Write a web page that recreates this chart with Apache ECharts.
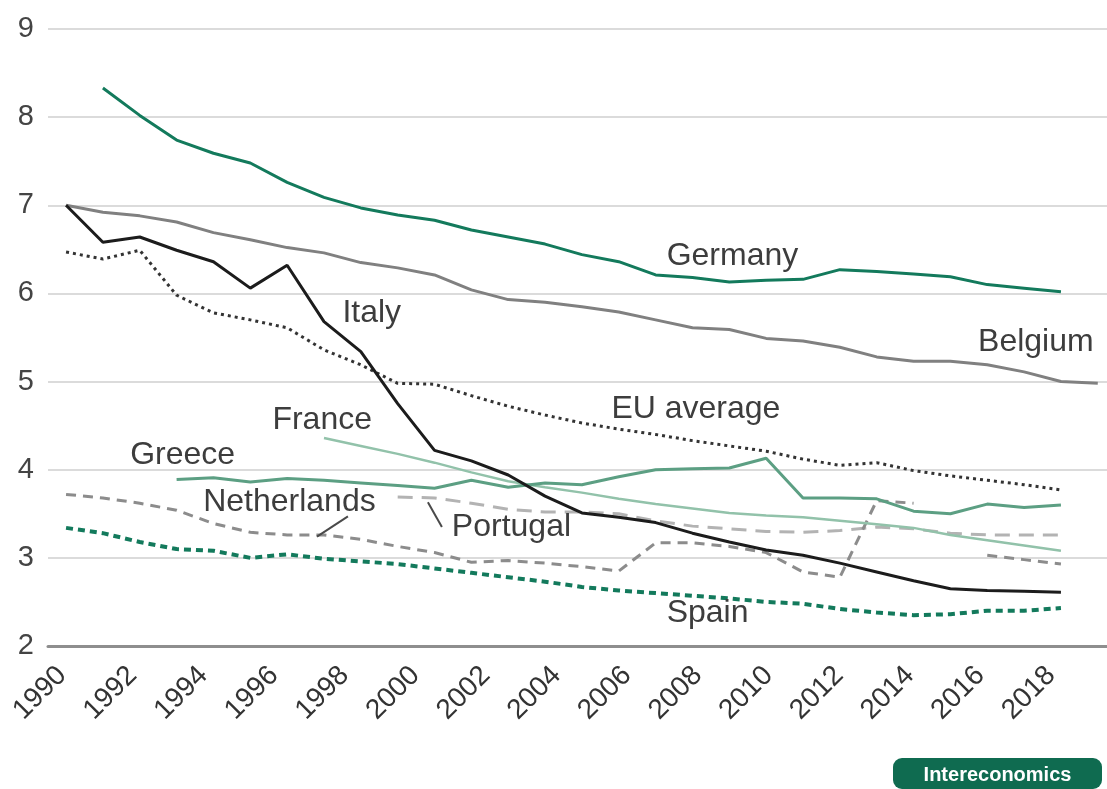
<!DOCTYPE html>
<html>
<head>
<meta charset="utf-8">
<script src="https://cdn.jsdelivr.net/npm/echarts@6/dist/echarts.min.js"></script>
<style>
  html, body { margin: 0; padding: 0; background: #fff; }
  #chart { width: 1107px; height: 789px; }
</style>
</head>
<body>
<div id="chart"></div>
<script>
// years on the data axis
const years = [1990, 1991, 1992, 1993, 1994, 1995, 1996, 1997, 1998, 1999,
    2000, 2001, 2002, 2003, 2004, 2005, 2006, 2007, 2008, 2009,
    2010, 2011, 2012, 2013, 2014, 2015, 2016, 2017, 2018]
const tickYears = [1990, 1992, 1994, 1996, 1998, 2000, 2002, 2004, 2006, 2008, 2010, 2012, 2014, 2016, 2018]

const germany = [null, 8.33, 8.02, 7.74, 7.59, 7.48, 7.26, 7.09, 6.97, 6.89,
    6.83, 6.72, 6.64, 6.56, 6.44, 6.36, 6.21, 6.18, 6.13, 6.15,
    6.16, 6.27, 6.25, 6.22, 6.19, 6.10, 6.06, 6.02, null]
const belgium = [7.00, 6.92, 6.88, 6.81, 6.69, 6.61, 6.52, 6.46, 6.35, 6.29,
    6.21, 6.04, 5.93, 5.90, 5.85, 5.79, 5.70, 5.61, 5.59, 5.49,
    5.46, 5.39, 5.28, 5.23, 5.23, 5.19, 5.11, 5.00, 4.98]
const italy = [7.00, 6.58, 6.64, 6.49, 6.36, 6.06, 6.32, 5.68, 5.34, 4.75,
    4.22, 4.10, 3.94, 3.70, 3.51, 3.46, 3.40, 3.28, 3.18, 3.09,
    3.03, 2.94, 2.84, 2.74, 2.65, 2.63, 2.62, 2.61, null]
const euAverage = [6.47, 6.39, 6.49, 5.98, 5.78, 5.70, 5.61, 5.36, 5.19, 4.98,
    4.97, 4.84, 4.72, 4.62, 4.53, 4.46, 4.40, 4.33, 4.27, 4.21,
    4.12, 4.05, 4.08, 3.99, 3.93, 3.88, 3.83, 3.77, null]
const france = [null, null, null, null, null, null, null, 4.36, 4.27, 4.18,
    4.08, 3.97, 3.87, 3.80, 3.74, 3.67, 3.61, 3.56, 3.51, 3.48,
    3.46, 3.42, 3.38, 3.34, 3.26, 3.20, 3.14, 3.08, null]
const greece = [null, null, null, 3.89, 3.91, 3.86, 3.90, 3.88, 3.85, 3.82,
    3.79, 3.88, 3.80, 3.85, 3.83, 3.92, 4.00, 4.01, 4.02, 4.13,
    3.68, 3.68, 3.67, 3.53, 3.50, 3.61, 3.57, 3.60, null]
const netherlands = [3.72, 3.68, 3.62, 3.54, 3.39, 3.29, 3.26, 3.26, 3.21, 3.13,
    3.06, 2.95, 2.97, 2.94, 2.90, 2.85, 3.17, 3.17, 3.13, 3.06,
    2.84, 2.78, 3.65, 3.62, null, 3.03, 2.98, 2.93, null]
const portugal = [null, null, null, null, null, null, null, null, null, 3.69,
    3.68, 3.62, 3.55, 3.52, 3.52, 3.50, 3.42, 3.36, 3.33, 3.30,
    3.29, 3.31, 3.35, 3.33, 3.28, 3.26, 3.26, 3.26, null]
const spain = [3.34, 3.28, 3.18, 3.10, 3.08, 3.00, 3.04, 2.99, 2.96, 2.93,
    2.88, 2.83, 2.78, 2.73, 2.67, 2.63, 2.60, 2.57, 2.54, 2.50,
    2.48, 2.42, 2.38, 2.35, 2.36, 2.40, 2.40, 2.43, null]

// where each name sits (left edge of the text, middle)
const labelGermany = [2006.3, 6.42]
const labelBelgium = [2014.75, 5.45]
const labelItaly = [1997.5, 5.78]
const labelEu = [2004.8, 4.69]
const labelFrance = [1995.6, 4.56]
const labelGreece = [1991.74, 4.17]
const labelNetherlands = [1993.72, 3.63]
const labelPortugal = [2000.47, 3.35]
const labelSpain = [2006.3, 2.37]
// leader lines
const leaderNetherlands = [[1996.81, 3.24], [1997.65, 3.47]]
const leaderPortugal = [[1999.82, 3.63], [2000.2, 3.35]]

const font = "'Liberation Sans', Arial, sans-serif"
const textColor = '#3d3d3d'

function pairs(vals) {
    return years.map(function (y, i) { return [y, vals[i]] })
}

function nameTag(name, pos) {
    return {
        symbol: 'circle',
        symbolSize: 0,
        silent: true,
        animation: false,
        label: {
            show: true,
            position: 'right',
            distance: 0,
            formatter: name,
            fontFamily: font,
            fontSize: 32,
            color: textColor
        },
        data: [{ coord: pos }]
    }
}

function leader(seg) {
    return {
        symbol: 'none',
        silent: true,
        animation: false,
        label: { show: false },
        lineStyle: { color: '#4a4a4a', width: 2, type: 'solid' },
        data: [[{ coord: seg[0] }, { coord: seg[1] }]]
    }
}

function makeLine(name, vals, color, width, type, tag, extra) {
    const s = {
        name: name,
        type: 'line',
        data: pairs(vals),
        showSymbol: false,
        symbol: 'none',
        connectNulls: false,
        animation: false,
        lineStyle: { color: color, width: width, type: type, cap: 'butt' },
        markPoint: nameTag(name, tag)
    }
    if (extra) s.markLine = extra
    return s
}

const myChart = echarts.init(document.getElementById('chart'), null, { renderer: 'canvas' })
var option

option = {
    backgroundColor: '#fff',
    grid: [
        { left: 48, right: 0, top: 29, bottom: 143 },
        { left: 62, right: 56, top: 29, bottom: 143 }
    ],
    xAxis: [
        {
            type: 'value',
            gridIndex: 0,
            min: 1989.51,
            max: 2018.25,
            axisLine: { show: true, onZero: false, lineStyle: { color: '#8e8e8e', width: 3 } },
            axisTick: { show: false },
            axisLabel: { show: false },
            splitLine: { show: false }
        },
        {
            type: 'value',
            gridIndex: 1,
            min: 1990,
            max: 2018,
            interval: 2,
            axisLine: { show: false },
            axisTick: { show: false },
            splitLine: { show: false },
            axisLabel: {
                rotate: 45,
                margin: 25,
                fontFamily: font,
                fontSize: 28,
                color: '#333',
                formatter: function (v) { return tickYears.indexOf(v) >= 0 ? String(v) : '' }
            }
        }
    ],
    yAxis: [
        {
            type: 'value',
            gridIndex: 0,
            min: 2,
            max: 9,
            interval: 1,
            axisLine: { show: false },
            axisTick: { show: false },
            axisLabel: { margin: 14, fontFamily: font, fontSize: 29, color: '#444' },
            splitLine: { lineStyle: { color: '#cfcfcf', width: 1.5 } }
        },
        { type: 'value', gridIndex: 1, min: 2, max: 9, show: false }
    ],
    series: [
        makeLine('Portugal', portugal, '#b3b3b3', 3, [15, 9], labelPortugal, leader(leaderPortugal)),
        makeLine('Netherlands', netherlands, '#8c8c8c', 3, [10, 7], labelNetherlands, leader(leaderNetherlands)),
        makeLine('France', france, '#92c2aa', 2.5, 'solid', labelFrance),
        makeLine('Greece', greece, '#5c9f83', 3, 'solid', labelGreece),
        makeLine('Spain', spain, '#137a5c', 4, [7, 5], labelSpain),
        makeLine('EU average', euAverage, '#333333', 3, [3, 4], labelEu),
        makeLine('Belgium', belgium, '#808080', 3, 'solid', labelBelgium),
        makeLine('Germany', germany, '#137a5c', 3, 'solid', labelGermany),
        makeLine('Italy', italy, '#1c1c1c', 3, 'solid', labelItaly)
    ],
    graphic: [
        {
            type: 'group',
            left: 893,
            top: 758,
            children: [
                { type: 'rect', shape: { x: 0, y: 0, width: 209, height: 31, r: 9 }, style: { fill: '#0f6b50' } },
                {
                    type: 'text',
                    x: 104.5,
                    y: 17,
                    style: {
                        text: 'Intereconomics',
                        fill: '#fff',
                        font: 'bold 20px ' + font,
                        textAlign: 'center',
                        textVerticalAlign: 'middle'
                    }
                }
            ]
        }
    ]
}

if (option && typeof option === 'object') {
    myChart.setOption(option)
}
window.addEventListener('resize', myChart.resize)
</script>
</body>
</html>
